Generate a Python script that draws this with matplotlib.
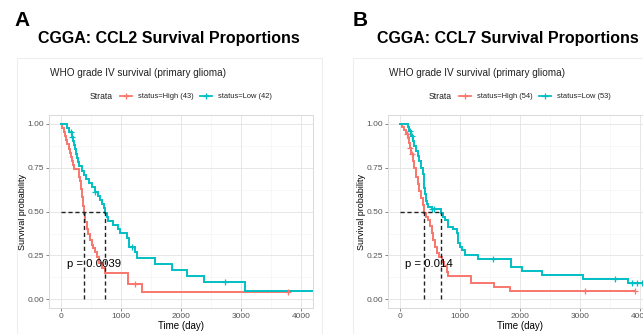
import matplotlib
matplotlib.use("Agg")
import matplotlib.pyplot as plt
from matplotlib.lines import Line2D
from matplotlib.patches import Rectangle

plt.rcParams['font.family'] = ['Liberation Sans', 'DejaVu Sans']

# ---------------- data ----------------
# Panel A: CCL2
a_high_t = [0, 20, 45, 65, 85, 105, 125, 145, 160, 175, 195, 212, 295, 305, 315, 325, 335, 345,
            355, 363, 371, 377, 383, 400, 427, 450, 480, 510, 540, 567, 600, 640, 690, 733, 1120, 1345]
a_high_s = [1.0, 0.977, 0.953, 0.930, 0.907, 0.884, 0.860, 0.837, 0.814, 0.791, 0.767, 0.744, 0.721,
            0.698, 0.674, 0.651, 0.628, 0.605, 0.581, 0.558, 0.535, 0.512, 0.488, 0.44, 0.40, 0.37,
            0.34, 0.31, 0.29, 0.27, 0.24, 0.21, 0.18, 0.148, 0.088, 0.043]
a_high_end = 3800
a_high_cens_t = [1233, 3790]
a_high_cens_s = [0.088, 0.043]

a_low_t = [0, 100, 130, 175, 195, 210, 225, 245, 260, 275, 295, 350, 380, 420, 470, 520, 570, 610,
           650, 690, 715, 733, 760, 790, 870, 955, 985, 1100, 1125, 1230, 1262, 1567, 1845, 2105,
           2383, 3067]
a_low_s = [1.0, 0.976, 0.952, 0.928, 0.904, 0.880, 0.855, 0.831, 0.807, 0.783, 0.758, 0.734, 0.710,
           0.686, 0.662, 0.638, 0.614, 0.590, 0.566, 0.542, 0.518, 0.494, 0.470, 0.447, 0.423, 0.400,
           0.376, 0.352, 0.300, 0.270, 0.238, 0.204, 0.167, 0.134, 0.100, 0.050]
a_low_end = 4300
a_low_cens_t = [160, 185, 567, 1178, 2733]
a_low_cens_s = [0.952, 0.928, 0.614, 0.300, 0.100]
a_medians = [383, 733]
a_pval = "p = 0.0039"
a_pval_x = 100

# Panel B: CCL7
b_high_t = [0, 40, 72, 100, 128, 145, 160, 185, 212, 238, 265, 295, 320, 350, 375, 395, 405, 430,
            472, 500, 530, 555, 585, 611, 650, 695, 740, 778, 805, 1180, 1570, 1833]
b_high_s = [1.0, 0.981, 0.963, 0.944, 0.920, 0.890, 0.865, 0.830, 0.790, 0.750, 0.700, 0.655, 0.620,
            0.579, 0.540, 0.515, 0.490, 0.470, 0.453, 0.420, 0.380, 0.340, 0.300, 0.265, 0.240,
            0.215, 0.190, 0.158, 0.133, 0.091, 0.069, 0.047]
b_high_end = 3917
b_high_cens_t = [110, 167, 200, 3083, 3917]
b_high_cens_s = [0.944, 0.865, 0.830, 0.047, 0.047]

b_low_t = [0, 128, 155, 185, 212, 240, 267, 295, 322, 350, 378, 395, 405, 420, 433, 450, 472, 530,
           678, 710, 750, 805, 880, 945, 972, 1000, 1028, 1083, 1305, 1845, 2028, 2361, 3055, 3800]
b_low_s = [1.0, 0.981, 0.960, 0.930, 0.903, 0.875, 0.846, 0.815, 0.789, 0.750, 0.712, 0.670, 0.636,
           0.600, 0.560, 0.545, 0.529, 0.515, 0.490, 0.470, 0.453, 0.415, 0.400, 0.377, 0.320,
           0.300, 0.282, 0.253, 0.228, 0.186, 0.163, 0.139, 0.116, 0.091]
b_low_end = 4300
b_low_cens_t = [170, 200, 540, 570, 1555, 3583, 3870, 3950, 4030]
b_low_cens_s = [0.960, 0.930, 0.515, 0.515, 0.228, 0.116, 0.091, 0.091, 0.091]
b_medians = [400, 678]
b_pval = "p = 0.014"
b_pval_x = 83

x_ticks = [0, 1000, 2000, 3000, 4000]
y_ticks = [0.0, 0.25, 0.50, 0.75, 1.0]
y_tick_labels = ["0.00", "0.25", "0.50", "0.75", "1.00"]

RED = "#F8766D"
TEAL = "#00BFC4"

W, H = 643, 334
fig = plt.figure(figsize=(W / 100, H / 100), dpi=100)


def fx(x):
    return x / W


def fy(y):
    return 1 - y / H


def km_curve(ax, t, s, end, ct, cs, color):
    ax.step(list(t) + [end], list(s) + [s[-1]], where='post', color=color, lw=1.4,
            solid_joinstyle='miter', zorder=3)
    ax.plot(ct, cs, ls='none', marker='+', ms=4.5, mew=0.9, color=color, zorder=4)


def panel(x0, frame_x, letter, title, n_hi, n_lo, hi, lo, medians, pval, pval_x, leg_x):
    # faint frame of the embedded plot image
    fig.add_artist(Rectangle((fx(frame_x), 0), fx(305), fy(58), transform=fig.transFigure,
                             fill=False, ec='#EEEEEE', lw=0.8))
    fig.text(fx(x0 - 36), fy(20.5), letter, fontsize=15, fontweight='bold', va='center', ha='left')
    fig.text(fx(x0 - 12), fy(39), title, fontsize=11.5, fontweight='bold', va='center', ha='left')
    fig.text(fx(x0), fy(73), "WHO grade IV survival (primary glioma)", fontsize=7.2,
             color='#222222', va='center', ha='left')
    # legend
    fig.text(fx(leg_x), fy(96), "Strata", fontsize=6.2, va='center', ha='left', color='#222222')
    items = [(RED, f"status=High ({n_hi})"), (TEAL, f"status=Low ({n_lo})")]
    xx = leg_x + 30
    for col, lab in items:
        fig.add_artist(Line2D([fx(xx), fx(xx + 12)], [fy(96), fy(96)], color=col, lw=1.3,
                              transform=fig.transFigure))
        fig.add_artist(Line2D([fx(xx + 6)], [fy(96)], color=col, marker='+', ms=4, mew=0.9,
                              transform=fig.transFigure))
        fig.text(fx(xx + 18), fy(96), lab, fontsize=5.4, va='center', ha='left', color='#222222')
        xx += 80

    ax_x = x0 - 1
    ax = fig.add_axes([fx(ax_x), fy(308.1), fx(264), (308.1 - 115.2) / H])
    ax.set_xlim(-200, 4200)
    ax.set_ylim(-0.05, 1.05)
    ax.set_xticks(x_ticks)
    ax.set_yticks(y_ticks)
    ax.set_yticklabels(y_tick_labels)
    ax.set_xticks([500, 1500, 2500, 3500], minor=True)
    ax.set_yticks([0.125, 0.375, 0.625, 0.875], minor=True)
    ax.grid(which='major', color='#E3E3E3', lw=0.6)
    ax.grid(which='minor', color='#F2F2F2', lw=0.4)
    ax.tick_params(which='major', length=2.2, width=0.5, color='#555555', labelsize=6.0,
                   labelcolor='#555555', pad=1.5)
    ax.tick_params(which='minor', length=0)
    for sp in ax.spines.values():
        sp.set_color('#D9D9D9')
        sp.set_linewidth(0.7)
    ax.set_axisbelow(True)
    ax.set_xlabel("Time (day)", fontsize=7.0, labelpad=0.5)
    ax.set_ylabel("Survival probability", fontsize=6.5, va='center')
    ax.yaxis.set_label_coords(-26 / 264, 0.5)

    # median lines
    ax.plot([0, max(medians)], [0.5, 0.5], ls=(0, (3, 2)), color='#222222', lw=1.0, zorder=5)
    for m in medians:
        ax.plot([m, m], [0, 0.5], ls=(0, (3, 2)), color='#222222', lw=1.0, zorder=5)

    km_curve(ax, *hi, RED)
    km_curve(ax, *lo, TEAL)
    ax.text(pval_x, 0.2, pval, fontsize=8.2, va='center', ha='left', zorder=6)
    return ax


panel(50, 17, "A", "CGGA: CCL2 Survival Proportions", 43, 42,
      (a_high_t, a_high_s, a_high_end, a_high_cens_t, a_high_cens_s),
      (a_low_t, a_low_s, a_low_end, a_low_cens_t, a_low_cens_s),
      a_medians, a_pval, a_pval_x, 90)
panel(389, 353, "B", "CGGA: CCL7 Survival Proportions", 54, 53,
      (b_high_t, b_high_s, b_high_end, b_high_cens_t, b_high_cens_s),
      (b_low_t, b_low_s, b_low_end, b_low_cens_t, b_low_cens_s),
      b_medians, b_pval, b_pval_x, 429)

fig.savefig("out.png", dpi=100)
